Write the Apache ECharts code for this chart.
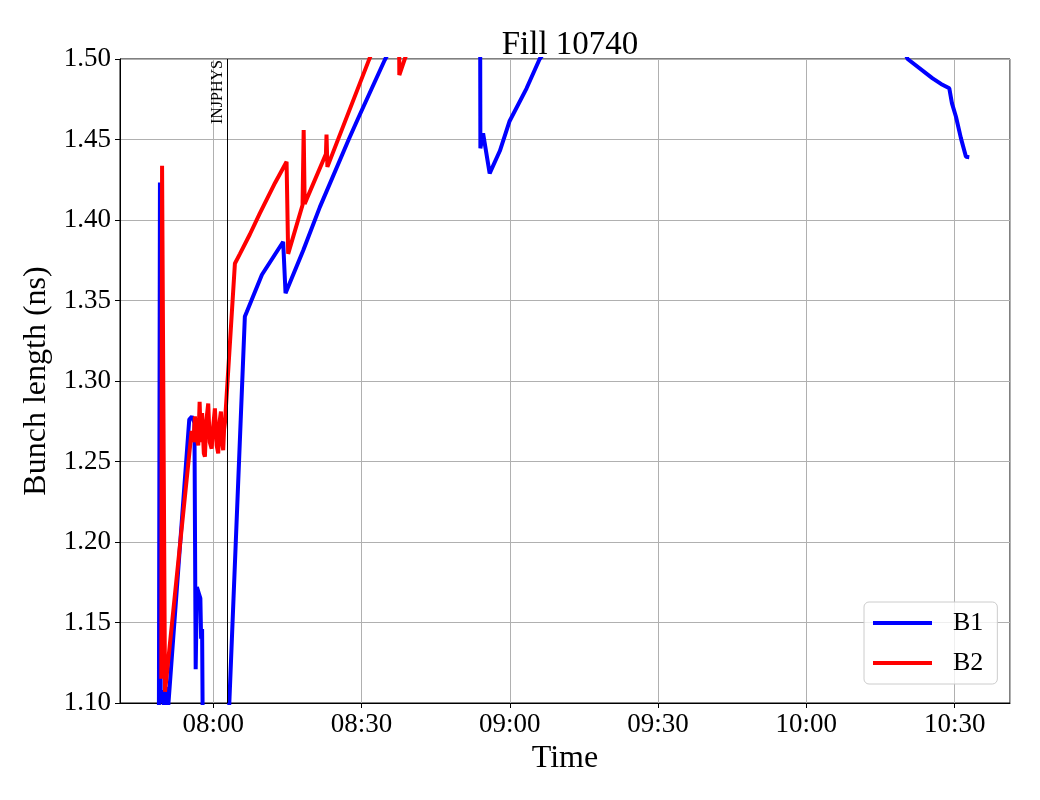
<!DOCTYPE html>
<html>
<head>
<meta charset="utf-8">
<script src="https://cdn.jsdelivr.net/npm/echarts@6/dist/echarts.min.js"></script>
<style>
html,body{margin:0;padding:0;background:#fff;}
#chart{width:1040px;height:800px;}
</style>
</head>
<body>
<div id="chart"></div>
<script>
// Time in minutes since midnight
var b1Times = [469.00, 469.22, 469.38, 469.70, 470.05, 470.45, 470.85, 475.15, 475.70, 476.20,
  476.45, 476.70, 477.10, 477.40, 477.55, 477.75, 477.95, 482.60, 486.40, 486.80,
  489.85, 494.15, 494.63, 498.20, 501.57, 507.41, 509.44, 514.70, 520.00, 527.00,
  533.95, 534.05, 534.60, 535.93, 538.00, 539.97, 543.40, 546.04, 560.00, 580.00, 600.00, 615.00,
  620.49, 625.54, 627.24, 628.92, 629.46, 630.27, 631.28, 632.29, 632.96];
var b1Values = [1.080, 1.4233, 1.100, 1.108, 1.097, 1.110, 1.096, 1.276, 1.278, 1.274,
  1.121, 1.172, 1.168, 1.165, 1.140, 1.146, 1.050, 1.050, 1.340, 1.343,
  1.366, 1.3865, 1.3545, 1.381, 1.408, 1.450, 1.464, 1.4994, 1.530, 1.570,
  1.610, 1.4445, 1.4538, 1.429, 1.443, 1.4615, 1.4818, 1.500, 1.560, 1.600, 1.590, 1.540,
  1.500, 1.488, 1.4845, 1.4818, 1.4724, 1.4641, 1.4507, 1.4393, 1.439];

var b2Times = [469.50, 469.65, 470.25, 475.63, 476.00, 476.30, 476.60, 476.97, 477.25, 477.50,
  477.75, 478.10, 478.32, 478.60, 478.99, 479.30, 479.68, 480.00, 480.34, 480.70,
  481.01, 481.30, 481.56, 481.80, 482.02, 482.20, 482.37, 484.39, 485.40, 487.40,
  489.40, 492.50, 494.84, 495.16, 498.07, 498.30, 498.50, 502.80, 502.92, 503.10,
  511.53, 517.55, 517.65, 518.75, 525.00, 535.00];
var b2Values = [1.115, 1.4337, 1.107, 1.269, 1.262, 1.278, 1.265, 1.260, 1.287, 1.262,
  1.280, 1.255, 1.253, 1.275, 1.286, 1.262, 1.258, 1.272, 1.283, 1.260,
  1.255, 1.275, 1.281, 1.262, 1.257, 1.270, 1.274, 1.373, 1.379, 1.391,
  1.404, 1.423, 1.4362, 1.379, 1.4093, 1.4559, 1.410, 1.441, 1.453, 1.433,
  1.4996, 1.545, 1.490, 1.500, 1.550, 1.600];

var seriesNames = ['B1', 'B2'];
var injPhysTime = 482.83;
var injPhysLabel = 'INJPHYS';
var titleText = 'Fill 10740';
var xName = 'Time';
var yName = 'Bunch length (ns)';
var xMin = 461.14, xMax = 641.2;
var yMin = 1.10, yMax = 1.50, yStep = 0.05;

function zip(t, v) { return t.map(function (x, i) { return [x, v[i]]; }); }
function fmtTime(m) {
  var h = Math.floor(m / 60 + 1e-9), mm = Math.round(m - h * 60);
  return (h < 10 ? '0' : '') + h + ':' + (mm < 10 ? '0' : '') + mm;
}

var FONT = '"Liberation Serif", "DejaVu Serif", serif';
var chart = echarts.init(document.getElementById('chart'), null, { renderer: 'canvas' });
chart.setOption({
  animation: false,
  backgroundColor: '#fff',
  title: {
    text: titleText, left: 565, textAlign: 'center', top: 24,
    textStyle: { fontFamily: FONT, fontSize: 33, fontWeight: 'normal', color: '#000' }
  },
  grid: { left: 120, right: 30, top: 59, bottom: 97, show: true, borderColor: '#000', borderWidth: 1, backgroundColor: 'transparent' },
  legend: {
    data: seriesNames, orient: 'vertical', left: 864, top: 602,
    icon: 'rect', itemWidth: 59, itemHeight: 4, itemGap: 14,
    padding: [8, 14, 8, 9],
    backgroundColor: 'rgba(255,255,255,0.8)', borderColor: '#ccc', borderWidth: 1, borderRadius: 5,
    textStyle: { fontFamily: FONT, fontSize: 26, color: '#000', lineHeight: 26, padding: [0, 0, 0, 16] }
  },
  xAxis: {
    type: 'value', min: xMin, max: xMax, splitNumber: 5,
    name: xName, nameLocation: 'middle', nameGap: 24,
    nameTextStyle: { fontFamily: FONT, fontSize: 32, color: '#000' },
    axisLine: { show: true, lineStyle: { color: '#000', width: 1 } },
    axisTick: { show: true, length: 5, lineStyle: { color: '#000' } },
    axisLabel: { fontFamily: FONT, fontSize: 27, color: '#000', margin: 8, showMinLabel: false, showMaxLabel: false, formatter: fmtTime },
    splitLine: { show: true, lineStyle: { color: '#b0b0b0', width: 1 } }
  },
  yAxis: {
    type: 'value', min: yMin, max: yMax, interval: yStep,
    name: yName, nameLocation: 'middle', nameGap: 56,
    nameTextStyle: { fontFamily: FONT, fontSize: 32, color: '#000' },
    axisLine: { show: true, lineStyle: { color: '#000', width: 1 } },
    axisTick: { show: true, length: 5, lineStyle: { color: '#000' } },
    axisLabel: { fontFamily: FONT, fontSize: 27, color: '#000', margin: 9, formatter: function (v) { return v.toFixed(2); } },
    splitLine: { show: true, lineStyle: { color: '#b0b0b0', width: 1 } }
  },
  series: [
    {
      name: seriesNames[0], type: 'line', data: zip(b1Times, b1Values), showSymbol: false, symbol: 'none',
      lineStyle: { color: '#0000ff', width: 4 }, itemStyle: { color: '#0000ff' }, clip: true, z: 3,
      markLine: {
        silent: true, symbol: ['none', 'none'], animation: false,
        lineStyle: { color: '#000', width: 1, type: 'solid' },
        label: { show: true, position: 'insideEndTop', formatter: injPhysLabel, fontFamily: FONT, fontSize: 16, color: '#000', distance: 1 },
        data: [{ xAxis: injPhysTime }]
      }
    },
    {
      name: seriesNames[1], type: 'line', data: zip(b2Times, b2Values), showSymbol: false, symbol: 'none',
      lineStyle: { color: '#ff0000', width: 4 }, itemStyle: { color: '#ff0000' }, clip: true, z: 4
    }
  ]
});
</script>
</body>
</html>
